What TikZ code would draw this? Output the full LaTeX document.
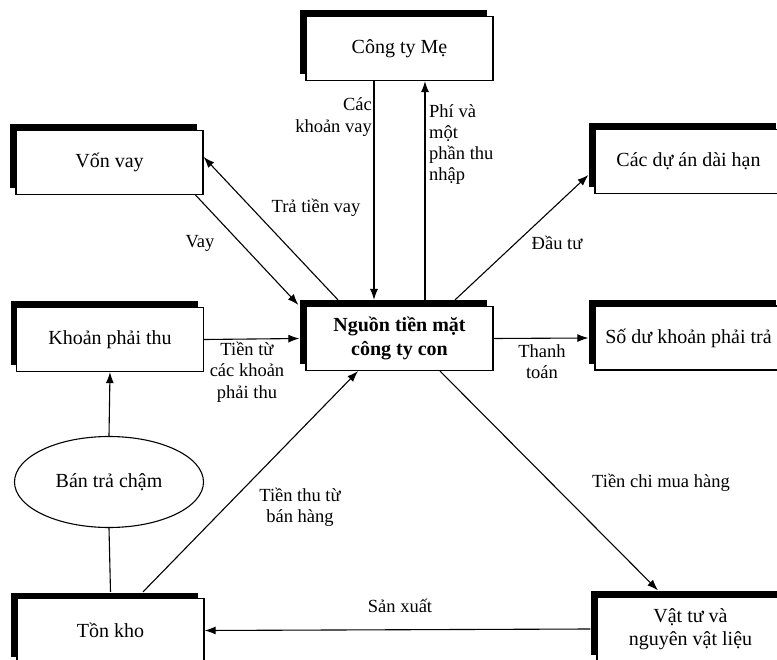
\documentclass[tikz,border=0pt]{standalone}
\usepackage{fontspec}
\setmainfont{Liberation Serif}
\usepackage{tikz}
\usetikzlibrary{shapes, arrows.meta, positioning, shadows}
\newcommand{\boxfont}{\fontsize{20}{24}\selectfont}
\newcommand{\lblfont}{\fontsize{18.5}{21.3}\selectfont}

\begin{document}
\begin{tikzpicture}
  [
    x=1pt, y=-1pt,
    Box/.style={rectangle, draw=black, fill=white, line width=1.2pt, minimum width=187pt, minimum height=64pt,
      align=center, font=\boxfont, drop shadow={shadow xshift=-6pt, shadow yshift=6pt, fill=black, opacity=1}},
    Oval/.style={ellipse, draw=black, fill=white, line width=1.1pt, minimum width=189pt, minimum height=91pt, font=\boxfont},
    Flow/.style={draw, line width=1.1pt, -{Latex[length=11pt, width=8pt]}},
    Link/.style={draw, line width=1.1pt},
    Lbl/.style={font=\lblfont, inner sep=0pt}
  ]
  \useasboundingbox (0,0) rectangle (777,660);
  \clip (0,0) rectangle (777,660);
  % Nodes
  \node[Box] (congtyme) at (399.5, 48.5) {Công ty Mẹ};
  \node[Box] (vonvay) at (109.5, 162.5) {Vốn vay};
  \node[Box] (duan) at (688.5, 161.5) {Các dự án dài hạn};
  \node[Box] (khoanphaithu) at (110, 339.5) {Khoản phải thu};
  \node[Box, font=\boxfont\bfseries] (nguon) at (399.5, 338.5) {Nguồn tiền mặt\\công ty con};
  \node[Box] (soduphaitra) at (688.5, 338) {Số dư khoản phải trả};
  \node[Oval] (bantracham) at (109, 482) {Bán trả chậm};
  \node[Box] (tonkho) at (110.5, 630.5) {Tồn kho};
  \node[Box, font=\fontsize{20}{23}\selectfont] (vattu) at (690.5, 629) {Vật tư và\\nguyên vật liệu};
  % Lines
  \path [Flow] ([xshift=-25.5pt]congtyme.south) -- ([xshift=-25.5pt, yshift=6pt]nguon.north);
  \path [Flow] ([xshift=25.5pt, yshift=6pt]nguon.north) -- ([xshift=25.5pt]congtyme.south);
  \path [Flow] ([xshift=-8pt]vonvay.south east) -- ([xshift=-7pt, yshift=1pt]nguon.north west);
  \path [Flow] ([xshift=-61.5pt, yshift=6pt]nguon.north) -- ([yshift=5.5pt]vonvay.east);
  \path [Flow] ([xshift=55.5pt, yshift=6pt]nguon.north) -- ([xshift=-6pt, yshift=-13.5pt]duan.west);
  \path [Flow] (nguon.east) -- ([xshift=-6pt]soduphaitra.west);
  \path [Flow] (khoanphaithu.east) -- ([xshift=-6pt]nguon.west);
  \path [Flow] (bantracham.north) -- (khoanphaithu.south);
  \path [Link] ([yshift=6pt]tonkho.north) -- (bantracham.south);
  \path [Flow] ([xshift=32.5pt, yshift=6pt]tonkho.north) -- ([xshift=-41.5pt]nguon.south);
  \path [Flow] ([xshift=40.5pt]nguon.south) -- ([xshift=-32.5pt, yshift=6pt]vattu.north);
  \path [Flow] ([xshift=-6pt]vattu.west) -- (tonkho.east);
  % Labels
  \node[Lbl, anchor=east, align=right] (lbl-vay-me) at (372, 117) {Các\\khoản vay};
  \node[Lbl, anchor=west, align=left] (lbl-phi) at (429, 144.5) {Phí và\\một\\phần thu\\nhập};
  \node[Lbl] (lbl-tra) at (316, 208) {Trả tiền vay};
  \node[Lbl] (lbl-vay) at (200, 243) {Vay};
  \node[Lbl] (lbl-dautu) at (557, 243) {Đầu tư};
  \node[Lbl, align=center] (lbl-thanhtoan) at (542, 362) {Thanh\\toán};
  \node[Lbl, align=center] (lbl-phaithu) at (247, 372) {Tiền từ\\các khoản\\phải thu};
  \node[Lbl, align=center] (lbl-banhang) at (300, 507) {Tiền thu từ\\bán hàng};
  \node[Lbl] (lbl-muahang) at (661, 483) {Tiền chi mua hàng};
  \node[Lbl] (lbl-sanxuat) at (400, 606) {Sản xuất};
\end{tikzpicture}
\end{document}
